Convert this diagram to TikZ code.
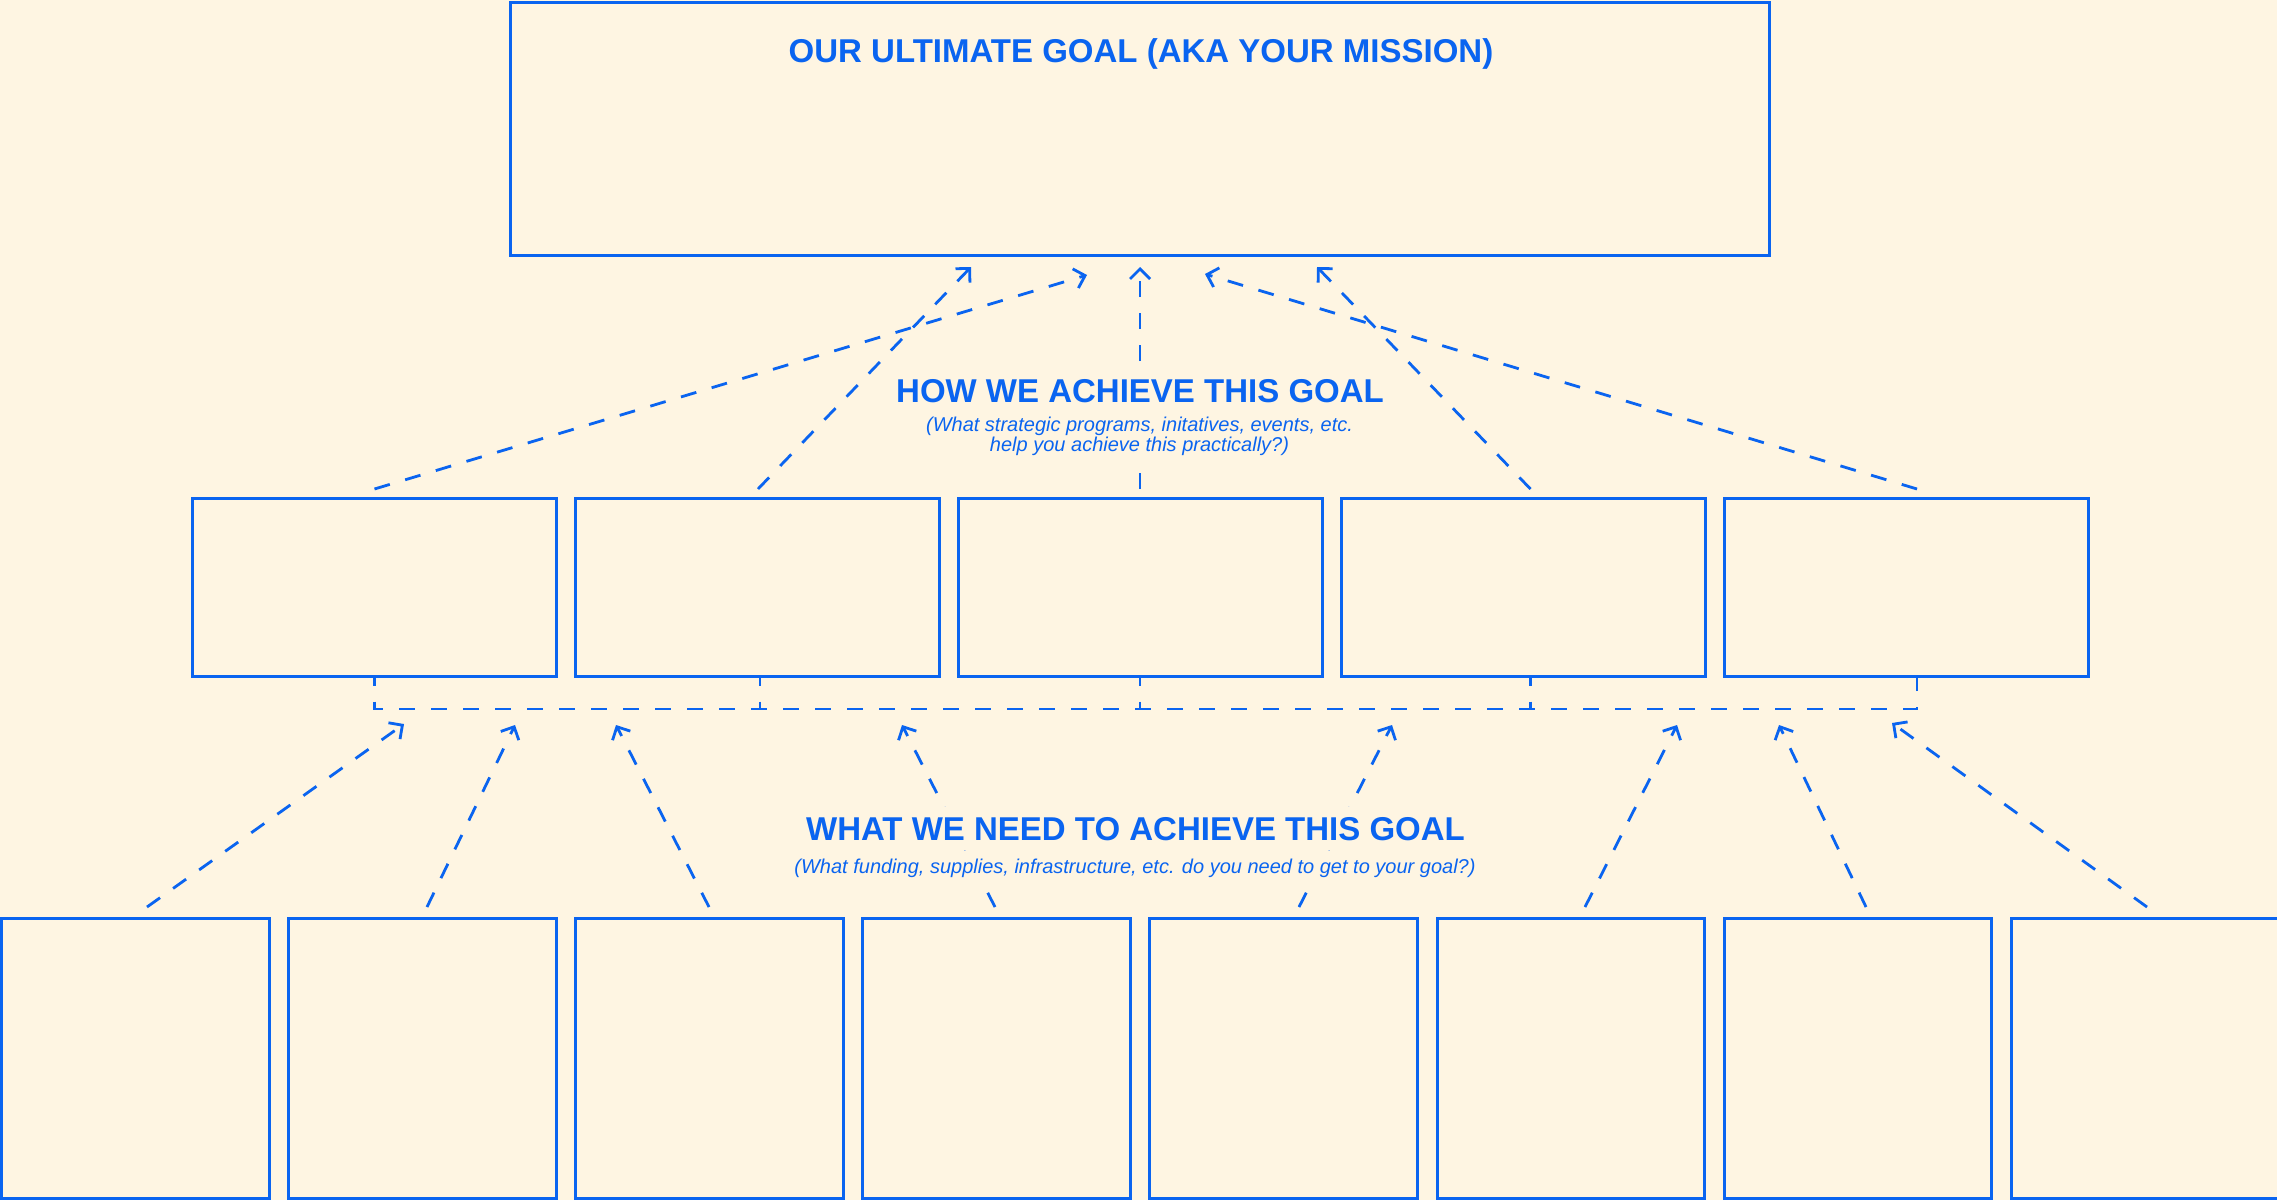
\documentclass[tikz,border=0pt]{standalone}
\usepackage{fontspec}
\setmainfont{Liberation Sans}
\usetikzlibrary{arrows.meta,calc}
\definecolor{ink}{HTML}{0A64F0}
\definecolor{paper}{HTML}{FEF5E2}
\begin{document}
\begin{tikzpicture}[x=1pt,y=-1pt,
  box/.style={draw=ink, line width=3pt, inner sep=0pt},
  link/.style={draw=ink, line width=2.8pt, dash pattern=on 16pt off 16pt},
  tip/.style={-{Straight Barb[length=10pt,width=20pt]}},
  head/.style={text=ink, font=\fontsize{33}{36}\selectfont\bfseries, anchor=base, fill=paper, inner sep=10pt},
  sub/.style={text=ink, font=\fontsize{20}{20}\selectfont\itshape, fill=paper, inner sep=6pt, align=center}]

% page
\fill[paper] (0,0) rectangle (2277,1200);
\useasboundingbox (0,0) rectangle (2277,1200);

% mission box
\node[box, minimum width=1259pt, minimum height=253pt] (goal) at (1139.5,129) {};

% programme boxes
\foreach \i in {1,...,5}
  \node[box, minimum width=364pt, minimum height=178pt] (m\i) at ({374+383*(\i-1)},587) {};

% resource boxes
\foreach \i in {1,...,8}
  \node[box, minimum width=267.5pt, minimum height=280pt] (b\i) at ({135.25+287.1*(\i-1)},1058) {};

% bus joining the programme boxes
\coordinate (s1) at (374.5,709);
\coordinate (s2) at (760,709);
\coordinate (s3) at (1140,709);
\coordinate (s4) at (1530.5,709);
\coordinate (s5) at (1917,709);
\draw[link, dash phase=8pt] (m1.south -| s1) -- (s1) -- (s5) -- (m5.south -| s5);
\foreach \i in {2,3,4}
  \draw[link, dash phase=8pt] (m\i.south -| s\i) -- (s\i);

% programme boxes up to the mission
\coordinate (u1) at (374.5,489);
\coordinate (u2) at (758,489);
\coordinate (u3) at (1140,489);
\coordinate (u4) at (1530.5,489);
\coordinate (u5) at (1917,489);
\coordinate (g1) at (1087,275);
\coordinate (g2) at (971,267);
\coordinate (g3) at (1140,267);
\coordinate (g4) at (1317,267);
\coordinate (g5) at (1205,274);
\foreach \i in {1,...,5}
  \draw[link, tip] (u\i) -- (g\i);

% resource boxes up to the bus
\coordinate (r1) at (147,907);
\coordinate (r2) at (427,907);
\coordinate (r3) at (709,907);
\coordinate (r4) at (995,907);
\coordinate (r5) at (1299,907);
\coordinate (r6) at (1585,907);
\coordinate (r7) at (1866,907);
\coordinate (r8) at (2147,907);
\coordinate (t1) at (404,724);
\coordinate (t2) at (515,725);
\coordinate (t3) at (616,725);
\coordinate (t4) at (902,725);
\coordinate (t5) at (1392,725);
\coordinate (t6) at (1677,725);
\coordinate (t7) at (1779,725);
\coordinate (t8) at (1892,723);
\foreach \i in {1,...,8}
  \draw[link, tip] (r\i) -- (t\i);

% labels
\node[text=ink, font=\fontsize{33}{36}\selectfont\bfseries, anchor=base] (title) at (1141,62) {OUR ULTIMATE GOAL (AKA YOUR MISSION)};
\node[head] (howhead) at (1140,402) {HOW WE ACHIEVE THIS GOAL};
\node[sub, anchor=north] (howsub) at (1139.5,410.5) {(What strategic programs, initatives, events, etc.\\help you achieve this practically?)};
\node[head] (needhead) at (1135.5,840) {WHAT WE NEED TO ACHIEVE THIS GOAL};
\node[sub, anchor=base] (needsub) at (1135,873.5) {(What funding, supplies, infrastructure, etc. do you need to get to your goal?)};
\end{tikzpicture}
\end{document}
